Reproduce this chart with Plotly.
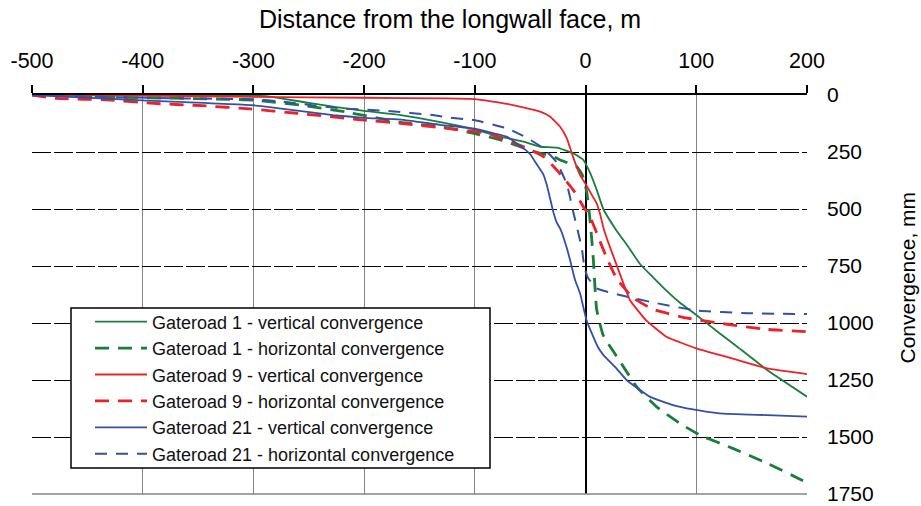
import plotly.graph_objects as go

# ---- data ----
g1v_x = [-500, -400, -300, -285, -250, -200, -167, -130, -101, -77, -56, -41, -26, -11, -2, 4, 10, 16, 28, 37, 49, 61, 73, 85, 100, 121, 137, 164, 200]
g1v_y = [0, 0, 3, 7, 35, 70, 88, 120, 150, 183, 205, 227, 231, 256, 285, 340, 415, 500, 595, 655, 740, 800, 858, 910, 965, 1045, 1104, 1206, 1323]

g1h_x = [-500, -420, -300, -258, -217, -167, -130, -101, -77, -59, -41, -32, -23, -8, -3, 1, 3, 5, 7, 10, 16, 30, 46, 64, 85, 103, 133, 164, 200]
g1h_y = [0, 10, 22, 44, 74, 120, 140, 168, 197, 227, 256, 263, 285, 314, 350, 424, 500, 600, 720, 940, 1055, 1160, 1279, 1367, 1440, 1491, 1550, 1615, 1700]

g9v_x = [-500, -400, -300, -200, -130, -100, -71, -41, -32, -23, -17, -11, -5, 0, 7, 10, 13, 16, 20, 28, 33, 40, 48, 55, 73, 100, 121, 137, 164, 200]
g9v_y = [0, 3, 8, 12, 15, 18, 39, 73, 95, 139, 189, 276, 351, 390, 450, 475, 520, 580, 640, 745, 811, 899, 950, 990, 1060, 1111, 1140, 1162, 1199, 1224]

g9h_x = [-500, -478, -429, -393, -346, -303, -261, -200, -167, -125, -89, -56, -38, -26, -11, -2, 4, 9, 17, 28, 43, 61, 91, 121, 164, 200]
g9h_y = [0, 15, 22, 36, 47, 61, 80, 110, 124, 146, 168, 227, 270, 329, 417, 490, 534, 592, 690, 805, 890, 940, 978, 1001, 1028, 1038]

g21v_x = [-500, -400, -300, -264, -228, -200, -167, -131, -100, -83, -71, -56, -50, -44, -38, -35, -29, -26, -23, -17, -14, -9.5, -5, 1, 11, 16, 28, 37, 58, 79, 97, 121, 164, 200]
g21v_y = [0, 24, 45, 66, 88, 100, 108, 131, 148, 168, 183, 234, 260, 305, 350, 395, 515, 560, 585, 670, 724, 811, 870, 990, 1104, 1140, 1200, 1250, 1323, 1360, 1379, 1396, 1404, 1411]

g21h_x = [-500, -450, -362, -301, -273, -249, -223, -178, -138, -125, -101, -71, -53, -38, -26, -17, -11, -3.4, -1, 2, 10, 31, 61, 100, 146, 200]
g21h_y = [0, 7, 15, 19, 29, 44, 58, 70, 88, 98, 110, 146, 188, 234, 296, 390, 515, 672, 757, 800, 848, 877, 910, 945, 957, 961]

x_ticks = [-500, -400, -300, -200, -100, 0, 100, 200]
x_tick_labels = ["-500", "-400", "-300", "-200", "-100", "0", "100", "200"]
y_ticks = [0, 250, 500, 750, 1000, 1250, 1500, 1750]
y_tick_labels = ["0", "250", "500", "750", "1000", "1250", "1500", "1750"]

GREEN = "#1B7D3A"
RED = "#EE2028"
BLUE = "#3350A6"
FONT = "Liberation Sans, Arial, sans-serif"

series = [
    ("Gateroad 1 - vertical convergence", g1v_x, g1v_y, GREEN, 1.8, "solid"),
    ("Gateroad 1 - horizontal convergence", g1h_x, g1h_y, GREEN, 2.8, "14px,9px"),
    ("Gateroad 9 - vertical convergence", g9v_x, g9v_y, RED, 1.8, "solid"),
    ("Gateroad 9 - horizontal convergence", g9h_x, g9h_y, RED, 2.8, "14px,9px"),
    ("Gateroad 21 - vertical convergence", g21v_x, g21v_y, BLUE, 1.8, "solid"),
    ("Gateroad 21 - horizontal convergence", g21h_x, g21h_y, BLUE, 2.0, "12px,9px"),
]

# plot-area geometry in pixels
L, R, T, B = 32, 807, 95, 494
W, H = R - L, B - T


def px_x(p):
    return (p - L) / W


def px_y(p):
    return (B - p) / H


fig = go.Figure()
for name, xs, ys, col, w, dash in series:
    fig.add_trace(go.Scatter(x=xs, y=ys, mode="lines", name=name,
                             line=dict(color=col, width=w, dash=dash, shape="spline", smoothing=0.4)))

fig.update_layout(
    width=921, height=506,
    margin=dict(l=L, r=921 - R, t=T, b=506 - B, autoexpand=False),
    paper_bgcolor="white", plot_bgcolor="white",
    font=dict(family=FONT, color="black"),
    showlegend=True,
    legend=dict(x=px_x(90), y=px_y(303.5), xanchor="left", yanchor="top",
                bgcolor="rgba(0,0,0,0)", borderwidth=0,
                font=dict(family=FONT, size=18, color="#111"), itemwidth=52,
                traceorder="normal"),
    xaxis=dict(range=[-500, 200], side="top", tickvals=x_ticks, ticktext=x_tick_labels,
               automargin=False,
               showgrid=True, gridcolor="#858585", gridwidth=1.2,
               zeroline=True, zerolinecolor="black", zerolinewidth=1.5,
               showline=True, linecolor="black", linewidth=2,
               ticks="outside", ticklen=8, tickcolor="black", tickwidth=1.5,
               tickfont=dict(family=FONT, size=21.5, color="black"),
               ticklabelstandoff=8, fixedrange=True),
    yaxis=dict(range=[1750, 0], side="right", tickvals=y_ticks, ticktext=y_tick_labels,
               automargin=False,
               showgrid=True, gridcolor="black", gridwidth=1.2, griddash="19px,3px",
               zeroline=False, showline=False, ticks="",
               tickfont=dict(family=FONT, size=21, color="black"),
               ticklabelstandoff=19, fixedrange=True),
    yaxis2=dict(range=[1750, 0], overlaying="y", anchor="free", position=500 / 700, side="left",
                tickvals=y_ticks, showgrid=False, zeroline=False, automargin=False,
                showline=True, linecolor="black", linewidth=1.5,
                ticks="outside", ticklen=5, tickcolor="black", tickwidth=1.5,
                showticklabels=False, fixedrange=True),
    shapes=[
        dict(type="line", xref="paper", yref="paper", x0=0, x1=1, y0=0, y1=0,
             line=dict(color="#858585", width=1.5), layer="above"),
        dict(type="rect", xref="paper", yref="paper",
             x0=px_x(71), x1=px_x(490), y0=px_y(468), y1=px_y(308),
             fillcolor="white", line=dict(color="black", width=1.5), layer="above"),
    ],
    annotations=[
        dict(text="Distance from the longwall face, m", xref="paper", yref="paper",
             x=px_x(450), y=px_y(19), xanchor="center", yanchor="middle",
             showarrow=False, font=dict(family=FONT, size=25, color="black")),
        dict(text="Convergence, mm", xref="paper", yref="paper", textangle=-90,
             x=px_x(907), y=px_y(277.5), xanchor="center", yanchor="middle",
             showarrow=False, font=dict(family=FONT, size=21, color="black")),
    ],
)

fig.write_html("out.html")
